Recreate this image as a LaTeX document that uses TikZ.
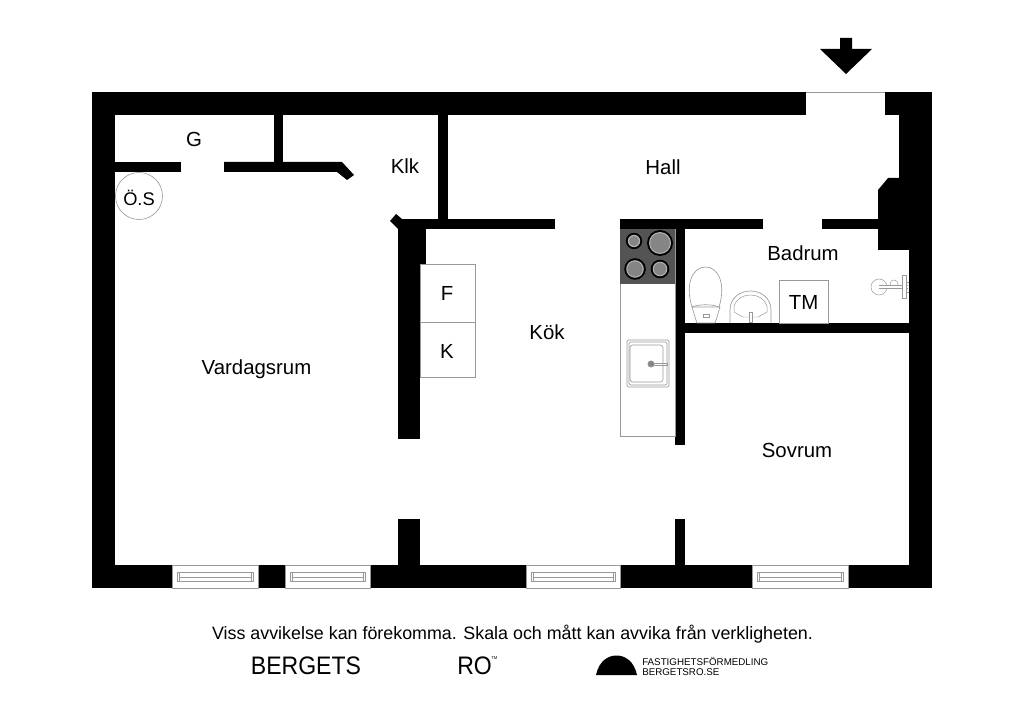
\documentclass[tikz,border=0pt]{standalone}
\usepackage{xcolor}
\usepackage{fontspec}
\setmainfont{Liberation Sans}
\usetikzlibrary{positioning, calc}

\definecolor{hobgray}{gray}{0.33}
\definecolor{ringgray}{gray}{0.52}
\definecolor{linegray}{gray}{0.6}

\begin{document}
\begin{tikzpicture}[
    x=0.025cm, y=-0.025cm,
    wall/.style={fill=black, draw=none},
    fixture/.style={draw=linegray, line width=0.45pt, fill=white},
    thinline/.style={draw=linegray, line width=0.35pt},
    room/.style={font=\fontsize{14.5}{16}\selectfont, inner sep=0pt},
    smalllabel/.style={font=\fontsize{13}{15}\selectfont, inner sep=0pt},
    brand/.style={font=\fontsize{18}{20}\selectfont\addfontfeature{FakeStretch=0.91}, inner sep=0pt},
    tiny/.style={font=\fontsize{6.95}{9}\selectfont, inner sep=0pt, anchor=west}
]

\useasboundingbox (0,0) rectangle (1024,701);

% outer walls
\foreach \xa/\ya/\xb/\yb in {92/92/806/115, 885/92/932/115, 92/92/115/588, 909/92/932/588,
    92/565/172/588, 258/565/285/588, 370/565/526/588, 620/565/752/588, 848/565/932/588}
    \fill[wall] (\xa,\ya) rectangle (\xb,\yb);

% inner walls
\foreach \xa/\ya/\xb/\yb in {115/162/181/172, 274/115/283/165, 438/115/448/222, 398/219/555/229,
    398/219/420/439, 398/229/426/295, 398/519/420/565, 620/219/763/229, 675/219/685/445,
    675/519/685/565, 675/323/909/333, 822/219/880/229}
    \fill[wall] (\xa,\ya) rectangle (\xb,\yb);

\fill[wall] (224,162) -- (342,162) -- (354,175) -- (347,180) -- (337,172) -- (224,172) -- cycle;
\fill[wall] (390,221) -- (396,214) -- (402,219) -- (402,229) -- (398,229) -- cycle;
\fill[wall] (899,115) -- (910,115) -- (910,250) -- (878,250) -- (878,190) -- (888,178) -- (899,178) -- cycle;

\draw[thinline] (806,92) -- (885,92);

% windows
\foreach \xa/\xb in {172/258, 285/370, 526/620, 752/848} {
    \draw[thinline, fill=white] (\xa,565) rectangle (\xb,588);
    \draw[thinline] (\xa+5,572) rectangle (\xb-5,581);
    \draw[thinline] (\xa+7,572) -- (\xa+7,581);
    \draw[thinline] (\xb-7,572) -- (\xb-7,581);
    \draw[thinline] (\xa+7,577) -- (\xb-7,577);
}

% kitchen
\draw[fixture] (420,264) rectangle (475,322);
\draw[fixture] (420,322) rectangle (475,377);
\draw[fixture] (620,229) rectangle (675,436);
\fill[hobgray] (620,229) rectangle (675,284);
\foreach \cx/\cy/\rr in {634/241/8.2, 660/243/13, 635/269/10.8, 660/269/9.3} {
    \fill[black] (\cx,\cy) circle (\rr);
    \fill[white!70!black] (\cx,\cy) circle (\rr-2);
    \fill[ringgray] (\cx,\cy) circle (\rr-3.2);
}
\draw[fixture, rounded corners=1pt] (627,340) rectangle (669,387);
\draw[fixture, rounded corners=1pt] (629,342) rectangle (667,385);
\draw[fixture, rounded corners=2pt] (630,345) rectangle (663,382);
\draw[thinline] (651,363) rectangle (667,365);
\draw[thinline, fill=ringgray] (651,364) circle (3.2);

% bathroom
\draw[fixture] (704,323) -- (697,323) .. controls (695,318) and (694,313) .. (692,307)
    -- (720,307) .. controls (718,313) and (717,318) .. (715,323) -- cycle;
\draw[fixture] (692,307) .. controls (685,285) and (692,267) .. (705.5,267)
    .. controls (719,267) and (726,285) .. (719,307) .. controls (712,304) and (699,304) .. (692,307) -- cycle;
\draw[thinline] (703,314) rectangle (709,317);
\draw[fixture] (730,323) -- (730,310) .. controls (730,298) and (740,291) .. (750.5,291)
    .. controls (761,291) and (771,298) .. (771,310) -- (771,323);
\draw[thinline] (734,312) -- (734,306) .. controls (736,299) and (743,295) .. (750.5,295)
    .. controls (758,295) and (765,299) .. (767,306) -- (767,312) -- (758,317) -- (743,317) -- cycle;
\draw[fixture] (749.5,312) rectangle (752.5,322);
\draw[fixture] (779,280) rectangle (828,323);

\draw[thinline] (879,287) circle (8);
\draw[thinline] (894,284) circle (4);
\fill[white] (879,285.5) rectangle (909,288.5);
\draw[thinline] (879,285.5) -- (908,285.5) (879,288.5) -- (908,288.5);
\draw[fixture] (902,275) rectangle (906,298);
\draw[thinline] (906,282) -- (909,282) (906,292) -- (909,292);

% storage
\draw[draw=linegray, line width=0.45pt] (139,196) circle (23.5);

% entrance arrow
\fill[black] (840,38) -- (852,38) -- (852,49) -- (872,49) -- (846,74) -- (820,49) -- (840,49) -- cycle;

% room labels
\node[room] (garderob) at (194,139) {G};
\node[room] (klk) at (405,166) {Klk};
\node[room] (hall) at (663,167) {Hall};
\node[smalllabel] (os) at (139,198) {Ö.S};
\node[room] (badrum) at (803,253) {Badrum};
\node[room] (tm) at (803.5,302) {TM};
\node[room] (frys) at (447,293) {F};
\node[room] (kyl) at (447,351) {K};
\node[room] (kok) at (547,332) {Kök};
\node[room] (vardagsrum) at (256.5,369) {Vardagsrum};
\node[room] (sovrum) at (797,450) {Sovrum};

% footer
\node[font=\fontsize{12.7}{14}\selectfont, inner sep=0pt] (note) at (512.5,634) {Viss avvikelse kan förekomma. Skala och mått kan avvika från verkligheten.};
\node[brand] (bergets) at (306,666) {BERGETS};
\node[brand, anchor=west] (ro) at (457,666) {RO};
\node[font=\fontsize{3}{4}\selectfont, inner sep=0pt, anchor=west] (tmark) at (491,658) {TM};
\fill[black] (596,675) .. controls (599,661) and (608,655.5) .. (616.5,655.5) .. controls (625,655.5) and (634,661) .. (637,675) -- cycle;
\node[tiny] (firma) at (642,661) {FASTIGHETSFÖRMEDLING};
\node[tiny] (webb) at (642,672) {BERGETSRO.SE};

\end{tikzpicture}
\end{document}
